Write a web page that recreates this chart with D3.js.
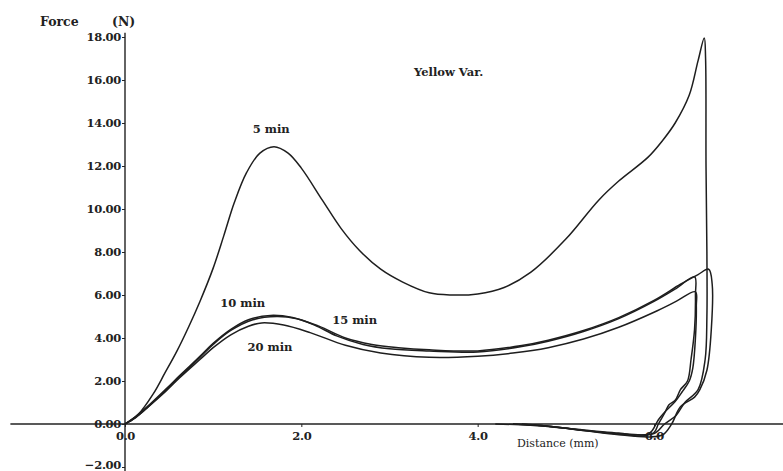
<!DOCTYPE html>
<html>
<head>
<meta charset="utf-8">
<script src="https://cdn.jsdelivr.net/npm/d3@7"></script>
<style>
  body { margin: 0; background: #fff; }
  svg { display: block; }
  text { font-family: "DejaVu Serif", serif; fill: #222; }
</style>
</head>
<body>
<div id="chart"></div>
<script>
// Force (N) vs distance (mm), each curve in path order: loading then retraction
const curve5 = [
  [0, 0], [0.15, 0.45], [0.32, 1.4], [0.45, 2.35], [0.59, 3.4], [0.72, 4.5], [0.85, 5.7],
  [1.0, 7.25], [1.12, 8.75], [1.24, 10.3], [1.38, 11.7], [1.53, 12.6], [1.69, 12.9], [1.85, 12.6],
  [2.0, 11.9], [2.24, 10.4], [2.45, 9.1], [2.66, 8.07], [2.9, 7.2], [3.15, 6.6], [3.45, 6.1],
  [3.7, 6.0], [4.0, 6.05], [4.3, 6.35], [4.6, 7.05], [5.0, 8.6], [5.37, 10.4], [5.6, 11.3],
  [5.93, 12.4], [6.1, 13.2], [6.24, 14.0], [6.4, 15.3], [6.5, 16.9], [6.57, 17.95],
  [6.585, 17.0], [6.59, 12.0], [6.6, 8.0], [6.6, 5.0], [6.58, 3.0], [6.5, 1.6], [6.35, 1.0],
  [6.25, 0.4], [6.12, 0], [6.0, -0.45], [5.8, -0.5], [5.4, -0.38], [5.0, -0.2], [4.6, -0.06], [4.2, 0]
];
const curve10 = [
  [0, 0], [0.12, 0.35], [0.25, 0.8], [0.47, 1.65], [0.62, 2.25], [0.85, 3.15], [1.0, 3.75],
  [1.2, 4.4], [1.4, 4.85], [1.65, 5.05], [1.9, 4.95], [2.15, 4.6], [2.4, 4.1], [2.7, 3.7],
  [3.0, 3.5], [3.45, 3.4], [4.0, 3.35], [4.5, 3.6], [4.8, 3.85], [5.2, 4.3], [5.6, 4.9],
  [6.0, 5.7], [6.25, 6.3], [6.46, 6.85],
  [6.47, 6.0], [6.46, 4.4], [6.42, 3.0], [6.38, 2.0], [6.3, 1.6], [6.24, 1.1], [6.17, 0.9],
  [6.12, 0.5], [6.05, 0], [6.0, -0.4], [5.9, -0.5], [5.6, -0.45], [5.2, -0.3], [4.8, -0.1], [4.4, 0]
];
const curve15 = [
  [0, 0], [0.12, 0.3], [0.25, 0.75], [0.47, 1.6], [0.62, 2.2], [0.85, 3.1], [1.0, 3.7],
  [1.2, 4.35], [1.45, 4.85], [1.72, 5.0], [1.95, 4.9], [2.2, 4.55], [2.5, 4.0], [2.8, 3.7],
  [3.1, 3.55], [3.45, 3.45], [4.0, 3.4], [4.5, 3.65], [4.8, 3.9], [5.2, 4.35], [5.6, 4.95],
  [6.0, 5.75], [6.3, 6.5], [6.5, 6.95], [6.62, 7.2],
  [6.66, 6.5], [6.65, 4.4], [6.6, 2.5], [6.52, 1.6], [6.46, 1.25], [6.3, 0.8], [6.2, 0],
  [6.1, -0.5], [5.95, -0.6], [5.6, -0.5], [5.2, -0.3], [4.8, -0.1], [4.4, 0]
];
const curve20 = [
  [0, 0], [0.12, 0.3], [0.25, 0.75], [0.47, 1.55], [0.62, 2.15], [0.85, 3.0], [1.0, 3.55],
  [1.2, 4.15], [1.4, 4.55], [1.55, 4.7], [1.8, 4.6], [2.1, 4.25], [2.5, 3.66], [2.9, 3.3],
  [3.45, 3.1], [4.0, 3.15], [4.4, 3.3], [4.8, 3.55], [5.2, 3.95], [5.6, 4.5], [6.0, 5.2],
  [6.25, 5.7], [6.47, 6.15],
  [6.48, 5.5], [6.47, 4.0], [6.44, 2.6], [6.4, 2.0], [6.32, 1.5], [6.24, 1.05], [6.12, 0.55],
  [6.05, 0.2], [5.98, -0.3], [5.9, -0.55], [5.6, -0.42], [5.2, -0.28], [4.8, -0.1], [4.5, 0]
];
const curves = [curve5, curve10, curve15, curve20];

// curve labels: [distance, force, text]
const curveLabels = [
  [1.45, 13.55, "5 min"],
  [1.08, 5.45, "10 min"],
  [2.35, 4.65, "15 min"],
  [1.39, 3.4, "20 min"]
];

const yTicks = [-2, 0, 2, 4, 6, 8, 10, 12, 14, 16, 18];
const xTicks = [0, 2, 4, 6];

const width = 783, height = 471;
const margin = {top: 37, left: 125};

const svg = d3.select("#chart").append("svg")
  .attr("width", width)
  .attr("height", height);

const x = d3.scaleLinear().domain([0, 6]).range([margin.left, margin.left + 529]);
const y = d3.scaleLinear().domain([-2, 18]).range([margin.top + 430, margin.top]);

// Axis lines (horizontal one runs across the whole figure)
svg.append("line")
  .attr("x1", x(-1.3)).attr("x2", x(7.5))
  .attr("y1", y(0)).attr("y2", y(0))
  .attr("stroke", "#222").attr("stroke-width", 1.4);
svg.append("line")
  .attr("x1", x(0)).attr("x2", x(0))
  .attr("y1", y(18.2)).attr("y2", y(-2.2))
  .attr("stroke", "#222").attr("stroke-width", 1.4);

// Y axis
const yAxis = svg.append("g")
  .attr("transform", `translate(${x(0)},0)`)
  .call(d3.axisLeft(y).tickValues(yTicks).tickFormat(d3.format(".2f")).tickSize(3).tickPadding(1));
yAxis.select(".domain").remove();
yAxis.selectAll("line").attr("stroke", "#222");
yAxis.selectAll("text")
  .attr("font-family", "DejaVu Serif, serif")
  .attr("font-weight", "bold")
  .attr("font-size", 11.5)
  .attr("letter-spacing", -0.3)
  .attr("fill", "#222")
  .attr("dy", d => d < 0 ? "0.1em" : "0.32em");

// X axis
const xAxis = svg.append("g")
  .attr("transform", `translate(0,${y(0)})`)
  .call(d3.axisBottom(x).tickValues(xTicks).tickFormat(d3.format(".1f")).tickSize(3).tickPadding(5));
xAxis.select(".domain").remove();
xAxis.selectAll("line").attr("stroke", "#222");
xAxis.selectAll("text")
  .attr("font-family", "DejaVu Serif, serif")
  .attr("font-weight", "bold")
  .attr("font-size", 11.5)
  .attr("letter-spacing", -0.3)
  .attr("fill", "#222");

// Curves
const line = d3.line()
  .x(d => x(d[0]))
  .y(d => y(d[1]))
  .curve(d3.curveCatmullRom.alpha(0.5));

svg.selectAll("path.curve")
  .data(curves)
  .join("path")
  .attr("class", "curve")
  .attr("d", line)
  .attr("fill", "none")
  .attr("stroke", "#1e1e1e")
  .attr("stroke-width", 1.5)
  .attr("stroke-linejoin", "round");

// Labels
svg.selectAll("text.clabel")
  .data(curveLabels)
  .join("text")
  .attr("class", "clabel")
  .attr("x", d => x(d[0]))
  .attr("y", d => y(d[1]))
  .attr("font-size", 11.5)
  .attr("font-weight", "bold")
  .text(d => d[2]);

svg.append("text")
  .attr("x", 40).attr("y", 26)
  .attr("font-size", 12.5)
  .attr("font-weight", "bold")
  .text("Force");
svg.append("text")
  .attr("x", 112).attr("y", 26)
  .attr("font-size", 12.5)
  .attr("font-weight", "bold")
  .text("(N)");

svg.append("text")
  .attr("x", 414).attr("y", 76)
  .attr("font-size", 11.5)
  .attr("font-weight", "bold")
  .text("Yellow Var.");

svg.append("text")
  .attr("x", 517).attr("y", 447)
  .attr("font-size", 11)
  .text("Distance (mm)");
</script>
</body>
</html>
